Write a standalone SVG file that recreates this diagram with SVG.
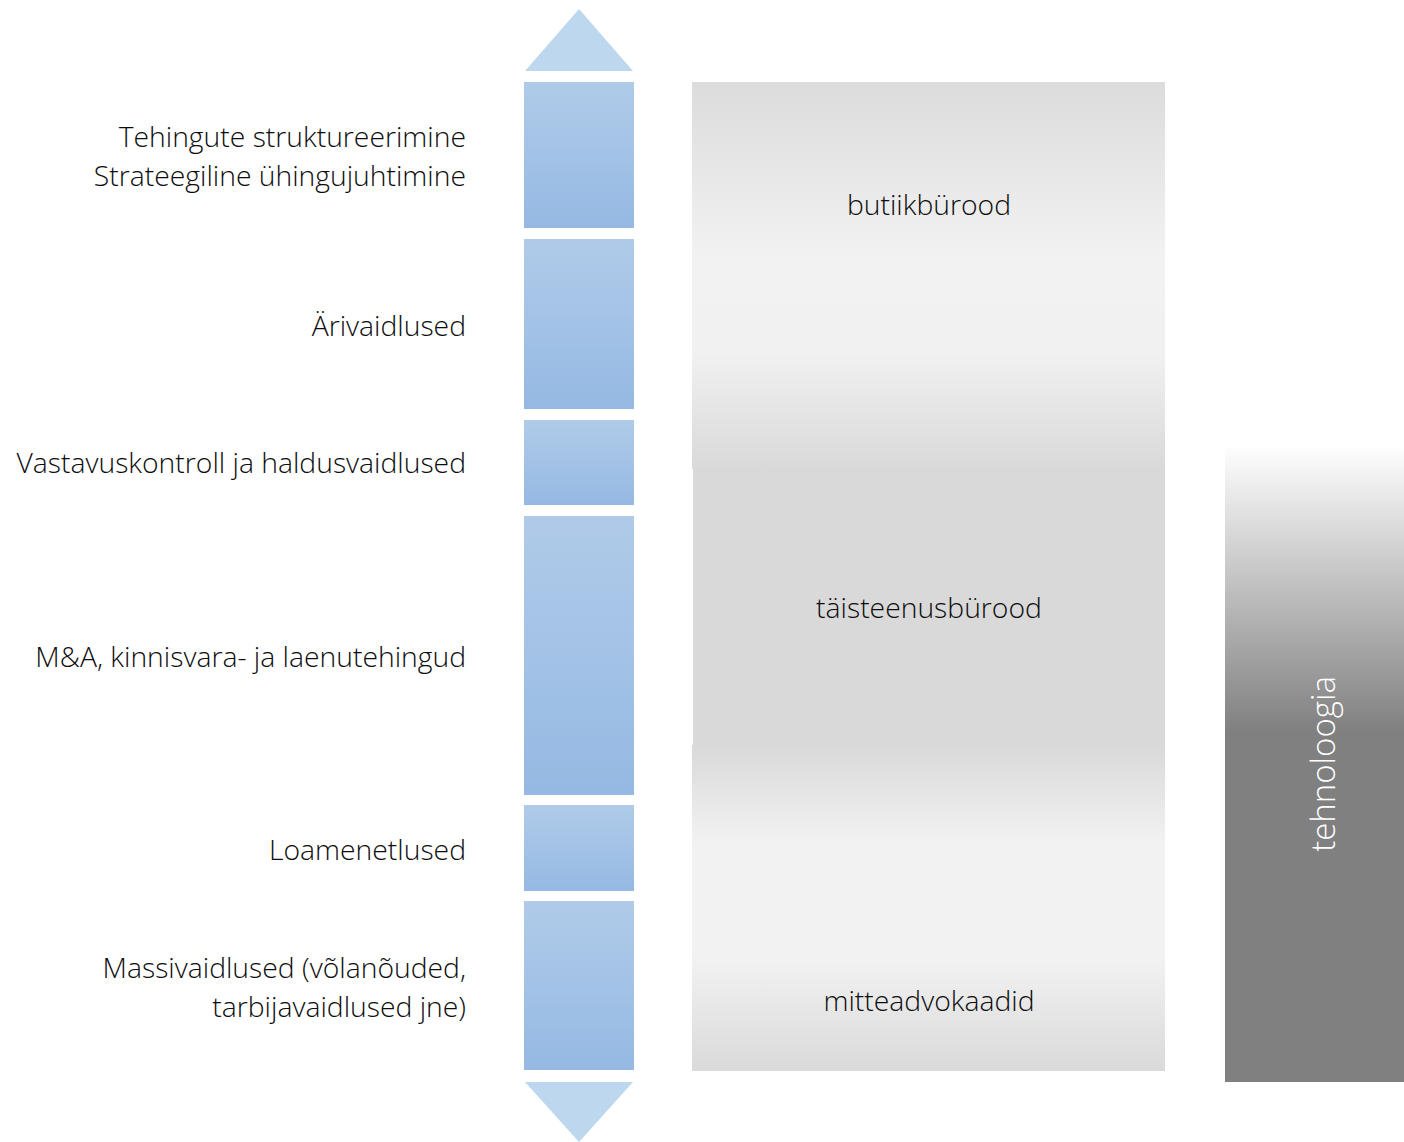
<svg xmlns="http://www.w3.org/2000/svg" width="1404" height="1142" viewBox="0 0 1404 1142">
<defs>
<linearGradient id="blue" x1="0" y1="0" x2="0" y2="1">
<stop offset="0" stop-color="#b0cbe9"/>
<stop offset="1" stop-color="#95b9e3"/>
</linearGradient>
<linearGradient id="grayTop" x1="0" y1="0" x2="0" y2="1">
<stop offset="0" stop-color="#dcdcdc"/>
<stop offset="0.45" stop-color="#f2f2f2"/>
<stop offset="0.7" stop-color="#f1f1f1"/>
<stop offset="1" stop-color="#d9d9d9"/>
</linearGradient>
<linearGradient id="grayBot" x1="0" y1="0" x2="0" y2="1">
<stop offset="0" stop-color="#d9d9d9"/>
<stop offset="0.3" stop-color="#f2f2f2"/>
<stop offset="0.65" stop-color="#f2f2f2"/>
<stop offset="1" stop-color="#dadada"/>
</linearGradient>
<linearGradient id="tech" x1="0" y1="0" x2="0" y2="1">
<stop offset="0" stop-color="#ffffff"/>
<stop offset="0.45" stop-color="#808080"/>
<stop offset="1" stop-color="#808080"/>
</linearGradient>
<style>
.lbl{font-family:"Open Sans","Liberation Sans",sans-serif;font-weight:300;font-size:28.3px;fill:#0d0d0d}
.r{text-anchor:end}
.c{text-anchor:middle}
.seg{fill:url(#blue)}
.tri{fill:#bdd7ee}
.tech{font-family:"Open Sans","Liberation Sans",sans-serif;font-weight:300;font-size:33px;fill:#ffffff;text-anchor:middle}
</style>
</defs>
<g id="axis">
<polygon class="tri" points="579,9 633,71 525,71"/>
<polygon class="tri" points="525,1082 633,1082 579,1142"/>
</g>
<g id="segments">
<g id="seg1"><rect class="seg" x="524" y="82" width="110" height="146"/><text class="lbl r" x="466" y="147">Tehingute struktureerimine</text><text class="lbl r" x="466" y="186">Strateegiline ühingujuhtimine</text></g>
<g id="seg2"><rect class="seg" x="524" y="239" width="110" height="170"/><text class="lbl r" x="466" y="336">Ärivaidlused</text></g>
<g id="seg3"><rect class="seg" x="524" y="420" width="110" height="85"/><text class="lbl r" x="466" y="473">Vastavuskontroll ja haldusvaidlused</text></g>
<g id="seg4"><rect class="seg" x="524" y="516" width="110" height="279"/><text class="lbl r" x="466" y="667">M&amp;A, kinnisvara- ja laenutehingud</text></g>
<g id="seg5"><rect class="seg" x="524" y="805" width="110" height="86"/><text class="lbl r" x="466" y="860">Loamenetlused</text></g>
<g id="seg6"><rect class="seg" x="524" y="901" width="110" height="169"/><text class="lbl r" x="466" y="978">Massivaidlused (võlanõuded,</text><text class="lbl r" x="466" y="1017">tarbijavaidlused jne)</text></g>
</g>
<g id="firms">
<g id="butiik"><rect x="692" y="82" width="473" height="387" fill="url(#grayTop)"/><text class="lbl c" x="929" y="215">butiikbürood</text></g>
<g id="taisteenus"><rect x="693" y="469" width="472" height="276" fill="#d9d9d9"/><text class="lbl c" x="929" y="618">täisteenusbürood</text></g>
<g id="mitte"><rect x="692" y="745" width="473" height="326" fill="url(#grayBot)"/><text class="lbl c" x="929" y="1011">mitteadvokaadid</text></g>
</g>
<g id="tehnoloogia">
<rect x="1225" y="445" width="179" height="637" fill="url(#tech)"/>
<text class="tech" transform="translate(1335,764) rotate(-90)">tehnoloogia</text>
</g>
<g id="connectors"/>
</svg>
